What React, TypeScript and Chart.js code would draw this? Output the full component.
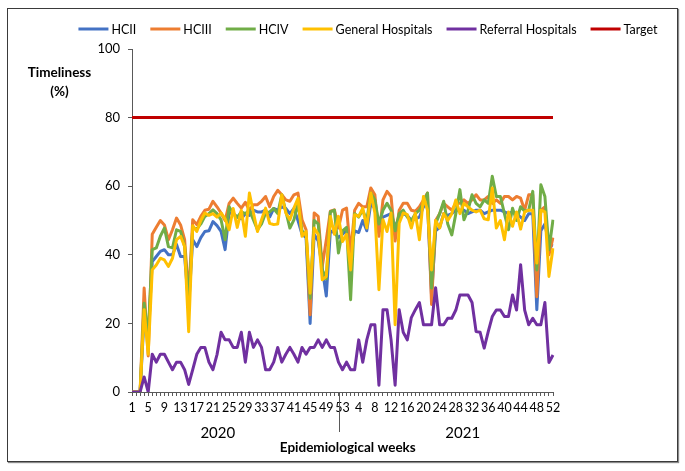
import { useEffect, useRef } from 'react';
import { Chart, registerables } from 'chart.js';

Chart.register(...registerables);

const WEEKS = [
  '1','2','3','4','5','6','7','8','9','10','11','12','13','14','15','16','17','18','19','20',
  '21','22','23','24','25','26','27','28','29','30','31','32','33','34','35','36','37','38','39','40',
  '41','42','43','44','45','46','47','48','49','50','51','52','53',
  '1','2','3','4','5','6','7','8','9','10','11','12','13','14','15','16','17','18','19','20',
  '21','22','23','24','25','26','27','28','29','30','31','32','33','34','35','36','37','38','39','40',
  '41','42','43','44','45','46','47','48','49','50','51','52',
];

const HCII = [
  0, 0, 0, 22, 16, 38, 39.5, 41, 41.5, 40, 40, 43, 39.5, 39.5, 25, 44.4, 42.4, 45, 46.8, 47,
  49.7, 48.5, 46.8, 41.5, 52.2, 52, 51, 50.5, 52, 51.5, 53, 52.5, 52.5, 53, 51, 53.5, 53, 54, 53.5, 52,
  53.5, 50, 46, 45, 20, 46, 44, 36, 28, 47, 46.5, 45, 46, 47, 41, 47, 46.5, 50, 47, 55,
  53.5, 48, 51, 51.5, 52, 48, 51, 52, 51.5, 50, 50.5, 51, 54, 55, 28, 47, 48, 52, 51.5, 52,
  53, 53, 53, 52, 52.5, 53, 53, 52, 52.5, 53, 53, 53, 52.5, 52, 52.5, 52, 51, 50, 52, 52,
  24, 47, 49, 43, 42.6,
];

const HCIII = [
  0, 0, 0, 30.3, 10.5, 46, 48, 50, 48.7, 44.4, 47.3, 50.7, 48.7, 44.4, 28, 50.2, 48.8, 51.2, 53, 53.3,
  55.6, 54, 52.2, 50, 55, 56.5, 55, 53.6, 55.3, 53, 54.6, 54.6, 55.6, 57, 54, 57, 58.8, 57.5, 56, 55.6,
  57.5, 58, 50.2, 47.3, 22.5, 52.2, 51.2, 36.6, 44.4, 52.7, 53.1, 47.8, 53, 53.6, 40.5, 53, 55, 54, 54, 59.5,
  57.5, 45.4, 56, 58.5, 57, 44, 53, 55, 55, 53, 52.7, 54, 56, 58, 25.5, 50, 52, 55, 54, 53,
  55, 55, 56, 55, 56, 57.5, 56, 56, 57, 55, 56, 55, 57, 57, 56, 57, 56.5, 53, 57.5, 57.5,
  27.8, 53, 54, 40, 45,
];

const HCIV = [
  0, 0, 0, 25.9, 16, 41.5, 42, 45.4, 47.8, 42.4, 42, 47.3, 46.8, 42.4, 26, 47.8, 47.5, 49, 51.2, 52,
  53.1, 52, 50.2, 44.4, 54, 52, 51, 52.5, 52, 53, 50.2, 47.3, 49, 52.2, 52.5, 53.5, 52, 57.5, 52.7, 47.8,
  50.2, 55, 47, 46, 27.3, 50, 49, 35.6, 33, 52.5, 53, 40.5, 47, 48, 26.9, 52, 51, 53, 50, 58,
  56, 49, 53, 55, 53, 47, 52, 53, 51, 50, 52, 53, 55, 58, 30.3, 49, 52, 55.6, 49, 45.8,
  52, 59, 50.2, 53, 57.5, 55, 54, 56, 55, 62.9, 57, 57, 52, 47.3, 53.6, 50, 54, 52.7, 53, 58.5,
  35.6, 60.4, 57, 41.5, 50.2,
];

const GENERAL = [
  0, 0, 0, 24, 11, 35.6, 37, 39, 38.5, 36.6, 39, 44.4, 45.4, 42.4, 17.6, 48.5, 46.8, 50, 52.2, 51.5,
  52, 51, 52.2, 50.5, 47.3, 53.5, 48, 53, 45.4, 58, 52.2, 46.8, 50.2, 53.6, 49.2, 48.8, 49, 57.5, 52.2, 50.2,
  53.6, 56.5, 45.4, 46.8, 28.8, 47.8, 46, 32.7, 33.7, 51.2, 46, 51.2, 43.9, 46, 35.6, 51.7, 51.2, 53.6, 47.8, 58,
  52.2, 29.8, 50.2, 46.8, 52.2, 19.6, 49.2, 52.2, 51.7, 47.8, 52.2, 44.4, 57, 53, 35.6, 50, 47.8, 52, 50, 52,
  56, 52, 55, 54, 53, 52.5, 53, 50.5, 50.2, 59.5, 47.8, 50, 44.4, 52.5, 48.3, 52.5, 47.5, 52.5, 53, 53,
  37.6, 53, 52.5, 33.7, 41.9,
];

const REFERRAL = [
  0, 0, 0, 4.4, 0, 11, 8.7, 11, 11, 8.7, 6.5, 8.7, 8.7, 6.5, 2.2, 6.5, 11, 13, 13, 8.7,
  6.5, 10.9, 17.4, 15.2, 15.2, 13, 13, 17.4, 8.7, 17.4, 13, 15.2, 13, 6.5, 6.5, 8.7, 13, 8.7, 11, 13,
  11, 8.7, 13, 11, 13, 13, 15.2, 13, 15.2, 13, 13, 8.7, 6.5, 8.7, 6.5, 6.5, 15.2, 8.7, 15.2, 19.6,
  19.6, 2, 24, 24, 15.2, 2, 24, 17.4, 15.2, 21.7, 24, 26.1, 19.6, 19.6, 19.6, 30.4, 19.6, 19.6, 21.5, 21.5,
  23.9, 28.3, 28.3, 28.3, 26.1, 17.6, 17.4, 12.8, 17.6, 22, 23.9, 23.9, 22, 22, 28.3, 23.9, 37.1, 23.9, 19.6, 21.5,
  19.6, 19.6, 26.1, 8.6, 10.8,
];

const TARGET_VALUE = 80;
const TARGET = WEEKS.map(() => TARGET_VALUE);

const SERIES_NAMES = ['HCII', 'HCIII', 'HCIV', 'General Hospitals', 'Referral Hospitals', 'Target'];
const SERIES_COLORS = ['#4472C4', '#ED7D31', '#70AD47', '#FFC000', '#7030A0', '#C00000'];
const YEARS = ['2020', '2021'];
const Y_TITLE = ['Timeliness', '(%)'];
const X_TITLE = 'Epidemiological weeks';

const FONT = 'Lato, "Open Sans", sans-serif';
const TEXT = '#000000';
const AXIS = '#595959';

const annotations = {
  id: 'annotations',
  afterDraw(chart: any) {
    const ctx = chart.ctx as CanvasRenderingContext2D;
    const xs = chart.scales.x;
    const area = chart.chartArea;
    ctx.save();

    // legend
    ctx.font = `12.5px ${FONT}`;
    const widths = SERIES_NAMES.map((n) => ctx.measureText(n).width);
    const lineLen = 30;
    const gap = 3;
    const spacing = 14;
    const total = widths.reduce((a, w) => a + lineLen + gap + w, 0) + spacing * (SERIES_NAMES.length - 1);
    let lx = 368 - total / 2;
    const ly = 29;
    ctx.textBaseline = 'middle';
    ctx.textAlign = 'left';
    SERIES_NAMES.forEach((name, i) => {
      ctx.strokeStyle = SERIES_COLORS[i];
      ctx.lineWidth = 3;
      ctx.lineCap = 'butt';
      ctx.beginPath();
      ctx.moveTo(lx, ly);
      ctx.lineTo(lx + lineLen, ly);
      ctx.stroke();
      ctx.fillStyle = TEXT;
      ctx.fillText(name, lx + lineLen + gap, ly + 0.5);
      lx += lineLen + gap + widths[i] + spacing;
    });

    // y title
    ctx.font = `bold 13.5px ${FONT}`;
    ctx.textAlign = 'center';
    ctx.fillText(Y_TITLE[0], 59.5, 73);
    ctx.fillText(Y_TITLE[1], 59.5, 92);

    // year separator
    const sepX = Math.round(xs.getPixelForValue(51.2)) + 0.5;
    ctx.strokeStyle = AXIS;
    ctx.lineWidth = 1;
    ctx.beginPath();
    ctx.moveTo(sepX, area.bottom);
    ctx.lineTo(sepX, area.bottom + 40);
    ctx.stroke();

    // years
    ctx.font = `15px ${FONT}`;
    ctx.fillStyle = TEXT;
    ctx.fillText(YEARS[0], xs.getPixelForValue(21.2), 433);
    ctx.fillText(YEARS[1], xs.getPixelForValue(81.7), 433);

    // x title
    ctx.font = `bold 13.5px ${FONT}`;
    ctx.fillText(X_TITLE, xs.getPixelForValue(53.3), 448);

    ctx.restore();
  },
};

export default function App() {
  const ref = useRef<HTMLCanvasElement>(null);

  useEffect(() => {
    const canvas = ref.current;
    if (!canvas) return;
    const values = [HCII, HCIII, HCIV, GENERAL, REFERRAL, TARGET];
    const chart = new Chart(canvas, {
      type: 'line',
      data: {
        labels: WEEKS.map((_, i) => String(i)),
        datasets: values.map((data, i) => ({
          label: SERIES_NAMES[i],
          data,
          borderColor: SERIES_COLORS[i],
          backgroundColor: SERIES_COLORS[i],
          borderWidth: 3,
          pointRadius: 0,
          tension: 0,
          fill: false,
          borderJoinStyle: 'round' as const,
          order: SERIES_NAMES.length - i,
        })),
      },
      plugins: [annotations],
      options: {
        responsive: false,
        animation: false,
        events: [],
        layout: { padding: { top: 49, left: 0, right: 132, bottom: 0 } },
        plugins: {
          legend: { display: false },
          tooltip: { enabled: false },
        },
        scales: {
          x: {
            type: 'category',
            offset: false,
            grid: {
              display: true,
              drawOnChartArea: false,
              drawTicks: true,
              tickLength: 4,
              color: AXIS,
              lineWidth: 1,
            },
            border: { display: true, color: AXIS, width: 1 },
            ticks: {
              autoSkip: false,
              maxRotation: 0,
              minRotation: 0,
              padding: 4,
              color: TEXT,
              font: { family: FONT, size: 12.5 },
              callback: (_v: any, i: number) => (i % 4 === 0 ? WEEKS[i] : ''),
            },
            afterFit: (s: any) => {
              s.height = 79;
            },
          },
          y: {
            min: 0,
            max: 100,
            grid: {
              display: true,
              drawOnChartArea: false,
              drawTicks: true,
              tickLength: 4,
              color: AXIS,
            },
            border: { display: true, color: AXIS, width: 1 },
            ticks: {
              stepSize: 20,
              padding: 8,
              color: TEXT,
              font: { family: FONT, size: 13 },
            },
            afterFit: (s: any) => {
              s.width = 132;
            },
          },
        },
      },
    });
    return () => chart.destroy();
  }, []);

  return (
    <div style={{ position: 'absolute', left: 0, top: 0, width: 685, height: 471, background: '#fff' }}>
      <div
        style={{
          position: 'absolute',
          left: 7,
          top: 8,
          width: 669,
          height: 452,
          border: '1px solid #3a3a3a',
          boxShadow: '1px 1px 1px #8a8a8a',
        }}
      />
      <canvas
        ref={ref}
        width={685}
        height={471}
        style={{ position: 'absolute', left: 0, top: 0, width: 685, height: 471 }}
      />
    </div>
  );
}
